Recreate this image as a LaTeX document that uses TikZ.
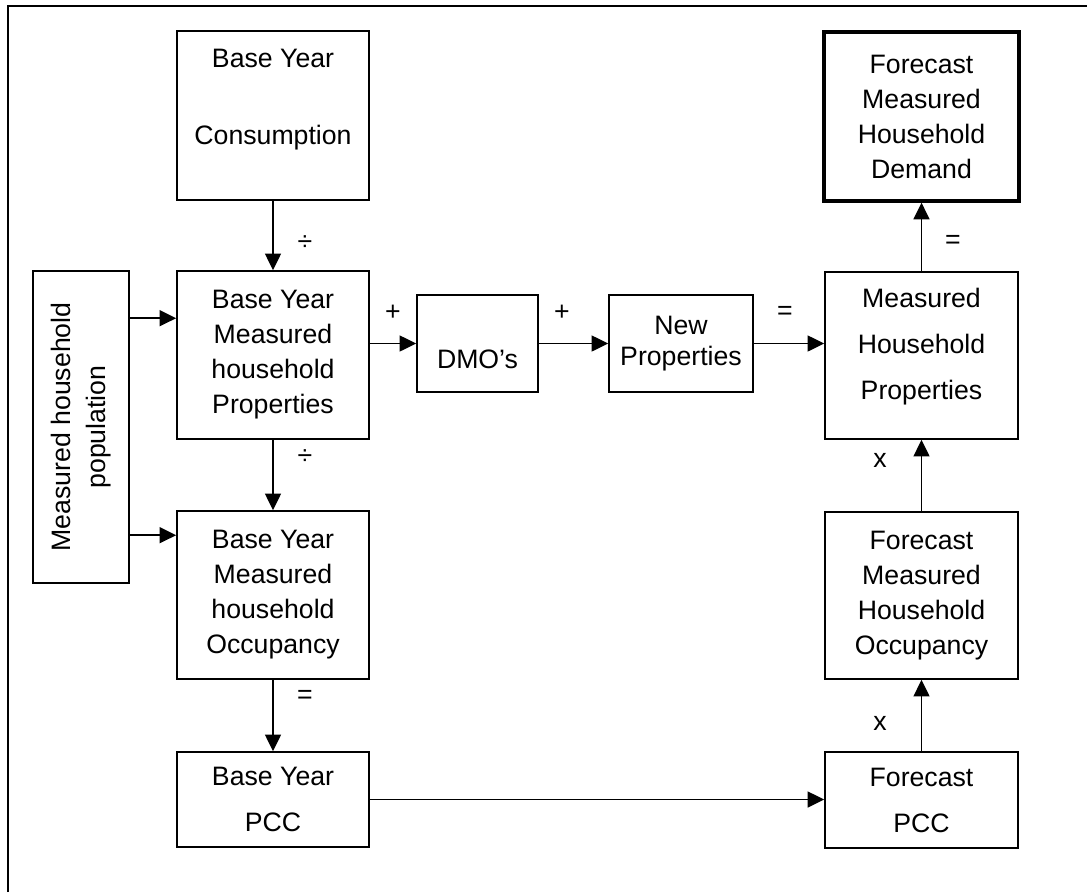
\documentclass[tikz,border=0pt]{standalone}
\usepackage{fontspec}
\setmainfont{Liberation Sans}
\usetikzlibrary{arrows.meta}
\usetikzlibrary{calc}

\begin{document}
\begin{tikzpicture}[x=0.75pt, y=-0.75pt, >={Triangle[length=12.5pt, width=12pt]},
    box/.style={draw, line width=1.2pt, inner sep=0pt, align=center,
        font=\fontsize{20}{26.25}\selectfont},
    wh/.style 2 args={minimum width=#1*0.75pt, minimum height=#2*0.75pt},
    flow/.style={->, line width=1.2pt},
    op/.style={font=\fontsize{20}{26.25}\selectfont}]

    \useasboundingbox (0,0) rectangle (1087,892);
    \draw[line width=1.2pt] (8,892) -- (8,6) -- (1087,6);

    % left column
    \node[box, wh={192}{169}] (cons) at (273,115.5) {Base Year\\[31.5pt]Consumption\\[2.25pt]\mbox{}};
    \node[box, wh={192}{168}] (prop) at (273,355) {Base Year\\Measured\\household\\Properties};
    \node[box, wh={192}{168}] (occ) at (273,595) {Base Year\\Measured\\household\\Occupancy};
    \node[box, wh={192}{95}] (bpcc) at (273,799.5) {Base Year\\[8.25pt]PCC};
    \node[box, wh={312}{96}, rotate=90] (pop) at (81,427) {Measured household\\population};

    % middle row
    \node[box, wh={121}{97}] (dmo) at (477.5,343.5) {\mbox{}\\[11pt]DMO’s};
    \node[box, wh={144}{97}] (newp) at (681,343.5) {New\\[-3pt]Properties};

    % right column
    \node[box, wh={195}{169}, line width=2.5pt] (dem) at (921.5,116.5) {Forecast\\Measured\\Household\\Demand};
    \node[box, wh={193}{167}] (mhp) at (921.5,355.5) {Measured\\[8.25pt]Household\\[8.25pt]Properties\\[-9pt]\mbox{}};
    \node[box, wh={193}{167}] (focc) at (921.5,595.5) {Forecast\\Measured\\Household\\Occupancy};
    \node[box, wh={193}{96}] (fpcc) at (921.5,800) {Forecast\\[8.25pt]PCC};

    \coordinate (pin1) at ($(prop.north west)+(0,48)$);
    \coordinate (pin2) at ($(occ.north west)+(0,25)$);

    \draw[flow] (cons) -- (prop);
    \draw[flow] (prop) -- (occ);
    \draw[flow] (occ) -- (bpcc);
    \draw[flow] (pop.south |- pin1) -- (pin1);
    \draw[flow] (pop.south |- pin2) -- (pin2);
    \draw[flow] (prop.east |- dmo) -- (dmo);
    \draw[flow] (dmo) -- (newp);
    \draw[flow] (newp) -- (newp -| mhp.west);
    \draw[flow] (mhp) -- (dem);
    \draw[flow] (focc) -- (mhp);
    \draw[flow] (fpcc) -- (focc);
    \draw[flow] (bpcc) -- (bpcc -| fpcc.west);

    \node[op] (div1) at (305,243) {÷};
    \node[op] (div2) at (305,457) {÷};
    \node[op] (eq1) at (305,697) {=};
    \node[op] (plus1) at (393,313) {+};
    \node[op] (plus2) at (562,313) {+};
    \node[op] (eq2) at (785,313) {=};
    \node[op] (eq3) at (953,242) {=};
    \node[op] (mul1) at (880,460) {x};
    \node[op] (mul2) at (880,723) {x};

\end{tikzpicture}
\end{document}
